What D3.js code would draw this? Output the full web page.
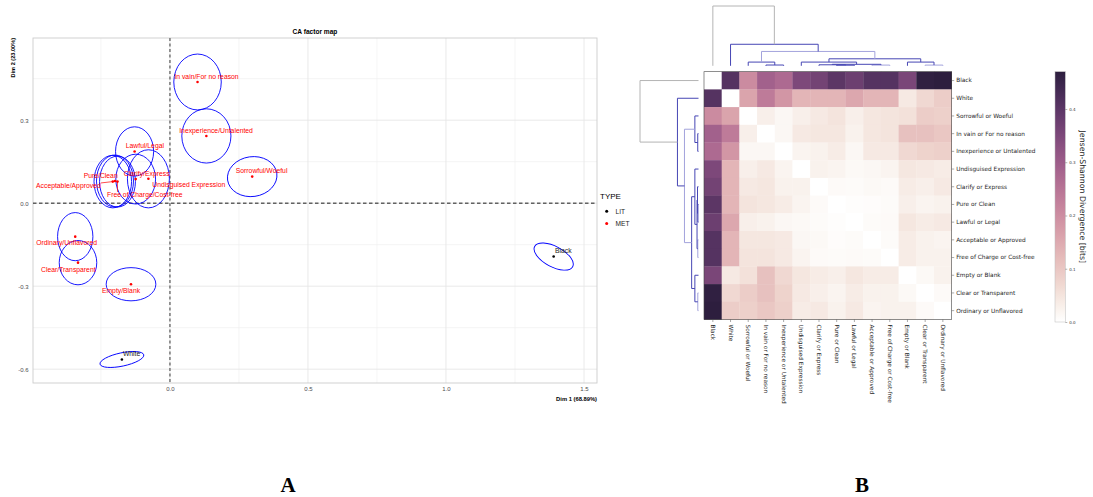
<!DOCTYPE html>
<html>
<head>
<meta charset="utf-8">
<script src="https://cdn.jsdelivr.net/npm/d3@7"></script>
<style>
body { margin: 0; background: #fff; }
svg { display: block; }
</style>
</head>
<body>
<svg id="fig" width="1093" height="497"></svg>
<script>
// ---------- panel A : CA factor map ----------
var caNames = ["In vain/For no reason", "Inexperience/Untalented", "Sorrowful/Woeful", "Lawful/Legal",
	"Clarify/Express", "Undisguised Expression", "Pure/Clean", "Acceptable/Approved",
	"Free of Charge/Cost-free", "Ordinary/Unflavored", "Clear/Transparent", "Empty/Blank", "White", "Black"];
var caType = ["MET", "MET", "MET", "MET", "MET", "MET", "MET", "MET", "MET", "MET", "MET", "MET", "LIT", "LIT"];
var caDim1 = [0.100, 0.132, 0.298, -0.128, -0.124, -0.078, -0.199, -0.207, -0.190, -0.343, -0.333, -0.141, -0.174, 1.390];
var caDim2 = [0.438, 0.243, 0.096, 0.187, 0.087, 0.088, 0.080, 0.078, 0.078, -0.121, -0.215, -0.293, -0.565, -0.193];
// confidence ellipses: semi-axes (dim units) and tilt (degrees)
var ellA = [0.086, 0.089, 0.090, 0.069, 0.072, 0.076, 0.067, 0.068, 0.065, 0.064, 0.068, 0.090, 0.081, 0.078];
var ellB = [0.101, 0.098, 0.072, 0.089, 0.090, 0.105, 0.094, 0.095, 0.092, 0.087, 0.080, 0.060, 0.024, 0.037];
var ellTilt = [0, 0, 8, 0, 0, 0, 0, 0, 0, 0, 0, 0, 12, -28];
var typeLevels = ["LIT", "MET"];

// label placement (pixels from the point, like ggrepel left them)
var labelNudge = [[9, -5.3], [9.7, -5.7], [9.4, -5.7], [10.3, -5.7], [11, -5.3], [40.4, 5.3], [-14.3, -5.3],
	[-44.4, 4], [27.3, 13], [-8.6, 6.3], [-9.7, 6.6], [-10, 6], [9.7, -5.4], [9.6, -6]];

// ---------- panel B : Jensen-Shannon clustermap ----------
var jsLabels = ["Black", "White", "Sorrowful or Woeful", "In vain or For no reason", "Inexperience or Untalented",
	"Undisguised Expression", "Clarify or Express", "Pure or Clean", "Lawful or Legal", "Acceptable or Approved",
	"Free of Charge or Cost-free", "Empty or Blank", "Clear or Transparent", "Ordinary or Unflavored"];
var jsd = [
	[0, 0.41, 0.205, 0.29, 0.27, 0.35, 0.365, 0.40, 0.375, 0.41, 0.41, 0.355, 0.465, 0.47],
	[0.41, 0, 0.16, 0.235, 0.185, 0.13, 0.13, 0.13, 0.155, 0.13, 0.13, 0.04, 0.07, 0.09],
	[0.205, 0.16, 0, 0.03, 0.015, 0.03, 0.04, 0.05, 0.03, 0.045, 0.05, 0.055, 0.09, 0.085],
	[0.29, 0.235, 0.03, 0, 0.015, 0.04, 0.045, 0.045, 0.025, 0.045, 0.05, 0.11, 0.11, 0.10],
	[0.27, 0.185, 0.015, 0.015, 0, 0.02, 0.025, 0.035, 0.015, 0.04, 0.04, 0.07, 0.08, 0.085],
	[0.35, 0.13, 0.03, 0.04, 0.02, 0, 0.025, 0.02, 0.012, 0.015, 0.02, 0.045, 0.04, 0.035],
	[0.365, 0.13, 0.04, 0.045, 0.025, 0.025, 0, 0.01, 0.008, 0.012, 0.01, 0.035, 0.03, 0.04],
	[0.40, 0.13, 0.05, 0.045, 0.035, 0.02, 0.01, 0, 0.004, 0.006, 0.008, 0.03, 0.02, 0.025],
	[0.375, 0.155, 0.03, 0.025, 0.015, 0.012, 0.008, 0.004, 0, 0.008, 0.01, 0.045, 0.035, 0.04],
	[0.41, 0.13, 0.045, 0.045, 0.04, 0.015, 0.012, 0.006, 0.008, 0, 0.008, 0.035, 0.025, 0.02],
	[0.41, 0.13, 0.05, 0.05, 0.04, 0.02, 0.01, 0.008, 0.01, 0.008, 0, 0.035, 0.025, 0.025],
	[0.355, 0.04, 0.055, 0.11, 0.07, 0.045, 0.035, 0.03, 0.045, 0.035, 0.035, 0, 0.012, 0.025],
	[0.465, 0.07, 0.09, 0.11, 0.08, 0.04, 0.03, 0.02, 0.035, 0.025, 0.025, 0.012, 0, 0.01],
	[0.47, 0.09, 0.085, 0.10, 0.085, 0.035, 0.04, 0.025, 0.04, 0.02, 0.025, 0.025, 0.01, 0]
];
// scipy style linkage: [left, right, height] ; leaves are 0..13 in the order above
var linkage = [
	[7, 8, 0.010], [9, 10, 0.012], [12, 13, 0.012], [3, 4, 0.013], [6, 14, 0.017],
	[18, 15, 0.025], [2, 17, 0.062], [5, 19, 0.062], [11, 16, 0.062], [21, 22, 0.117],
	[20, 23, 0.24], [1, 24, 0.36], [0, 25, 1.0]
];
var lightLinks = [15, 16, 24];
var cbarTicks = [0, 0.1, 0.2, 0.3, 0.4];

var svg = d3.select("#fig");
var SANS = "'Liberation Sans', Arial, sans-serif";
var DEJAVU = "'DejaVu Sans', sans-serif";

// ================= panel A =================
var A = { left: 33, right: 597, top: 38, bottom: 383 };
var x = d3.scaleLinear().domain([-0.496, 1.547]).range([A.left, A.right]);
var y = d3.scaleLinear().domain([-0.65, 0.597]).range([A.bottom, A.top]);
var typeColor = d3.scaleOrdinal().domain(typeLevels).range(["#000000", "#ff0000"]);

var ga = svg.append("g").attr("font-family", SANS);

// grid (minor then major)
var xMinor = [-0.25, 0.25, 0.75, 1.25], xMajor = [0, 0.5, 1, 1.5];
var yMinor = [-0.45, -0.15, 0.15, 0.45], yMajor = [-0.6, -0.3, 0, 0.3];
ga.selectAll(".vminor").data(xMinor).enter().append("line")
	.attr("x1", d => x(d)).attr("x2", d => x(d)).attr("y1", A.top).attr("y2", A.bottom)
	.attr("stroke", "#eeeeee").attr("stroke-width", 0.6);
ga.selectAll(".hminor").data(yMinor).enter().append("line")
	.attr("y1", d => y(d)).attr("y2", d => y(d)).attr("x1", A.left).attr("x2", A.right)
	.attr("stroke", "#eeeeee").attr("stroke-width", 0.6);
ga.selectAll(".vmajor").data(xMajor).enter().append("line")
	.attr("x1", d => x(d)).attr("x2", d => x(d)).attr("y1", A.top).attr("y2", A.bottom)
	.attr("stroke", "#e6e6e6").attr("stroke-width", 0.9);
ga.selectAll(".hmajor").data(yMajor).enter().append("line")
	.attr("y1", d => y(d)).attr("y2", d => y(d)).attr("x1", A.left).attr("x2", A.right)
	.attr("stroke", "#e6e6e6").attr("stroke-width", 0.9);

ga.append("rect").attr("x", A.left).attr("y", A.top)
	.attr("width", A.right - A.left).attr("height", A.bottom - A.top)
	.attr("fill", "none").attr("stroke", "#cccccc").attr("stroke-width", 0.9);

// axes labels via d3 axes
var xAxis = ga.append("g").attr("transform", "translate(0," + A.bottom + ")")
	.call(d3.axisBottom(x).tickValues(xMajor).tickFormat(d => d.toFixed(1)).tickSize(0).tickPadding(4));
var yAxis = ga.append("g").attr("transform", "translate(" + A.left + ",0)")
	.call(d3.axisLeft(y).tickValues(yMajor).tickFormat(d => d.toFixed(1)).tickSize(0).tickPadding(4.5));
[xAxis, yAxis].forEach(function(g){
	g.select(".domain").remove();
	g.attr("font-family", SANS);
	g.selectAll("text").attr("fill", "#4d4d4d").style("font-size", "6px");
});

// reference dashed lines
ga.append("line").attr("x1", A.left).attr("x2", A.right).attr("y1", y(0)).attr("y2", y(0))
	.attr("stroke", "#000").attr("stroke-width", 0.9).attr("stroke-dasharray", "3.5,2.5");
ga.append("line").attr("x1", x(0)).attr("x2", x(0)).attr("y1", A.top).attr("y2", A.bottom)
	.attr("stroke", "#7f7f7f").attr("stroke-width", 1.6).attr("stroke-dasharray", "3,2.5");

var pts = caNames.map(function(nm, i){
	return { name: nm, type: caType[i], d1: caDim1[i], d2: caDim2[i], a: ellA[i], b: ellB[i], tilt: ellTilt[i], nudge: labelNudge[i] };
});

// ellipses
ga.selectAll(".ell").data(pts).enter().append("ellipse")
	.attr("transform", d => "translate(" + x(d.d1) + "," + y(d.d2) + ") rotate(" + (-d.tilt) + ")")
	.attr("rx", d => x(d.a) - x(0)).attr("ry", d => y(0) - y(d.b))
	.attr("fill", "none").attr("stroke", "#0000ff").attr("stroke-width", 0.9);

// points
ga.selectAll(".pt").data(pts).enter().append("circle")
	.attr("cx", d => x(d.d1)).attr("cy", d => y(d.d2)).attr("r", 1.3)
	.attr("fill", d => typeColor(d.type));

// labels
var labs = ga.selectAll(".lab").data(pts).enter().append("text")
	.attr("x", d => x(d.d1) + d.nudge[0]).attr("y", d => y(d.d2) + d.nudge[1])
	.attr("text-anchor", "middle").attr("dy", "0.35em")
	.style("font-size", "6.8px")
	.attr("fill", d => d.type === "MET" ? "#ff0000" : "#222222")
	.text(d => d.name);

// segments from a point to its label box when the label was pushed away
labs.each(function(d){
	var bb = this.getBBox();
	var px = x(d.d1), py = y(d.d2);
	var qx = Math.max(bb.x, Math.min(px, bb.x + bb.width));
	var qy = Math.max(bb.y + 1, Math.min(py, bb.y + bb.height - 1));
	if (Math.hypot(qx - px, qy - py) > 5) {
		ga.append("line").attr("x1", px).attr("y1", py).attr("x2", qx).attr("y2", qy)
			.attr("stroke", typeColor(d.type)).attr("stroke-width", 0.7);
	}
});

// titles
ga.append("text").attr("x", (A.left + A.right) / 2).attr("y", 34).attr("text-anchor", "middle")
	.style("font-size", "6.6px").style("font-weight", "bold").text("CA factor map");
ga.append("text").attr("x", A.right).attr("y", 401).attr("text-anchor", "end")
	.style("font-size", "5.8px").style("font-weight", "bold").text("Dim 1 (68.89%)");
ga.append("text").attr("transform", "translate(15," + A.top + ") rotate(-90)").attr("text-anchor", "end")
	.style("font-size", "5.6px").style("font-weight", "bold").text("Dim 2 (23.00%)");

// legend
var lg = ga.append("g").attr("transform", "translate(600,0)");
lg.append("text").attr("x", 0).attr("y", 198.5).style("font-size", "8px").text("TYPE");
typeLevels.forEach(function(t, i){
	lg.append("circle").attr("cx", 6.7).attr("cy", 211.2 + i * 12.2).attr("r", 1.5).attr("fill", typeColor(t));
	lg.append("text").attr("x", 15.5).attr("y", 211.2 + i * 12.2).attr("dy", "0.35em")
		.style("font-size", "6.6px").attr("fill", "#222").text(t);
});

// ================= panel B =================
var gb = svg.append("g").attr("font-family", DEJAVU);
var n = jsLabels.length;
var H = { left: 704, right: 951.7, top: 71.7, bottom: 319.5 };
var xb = d3.scaleBand().domain(jsLabels).range([H.left, H.right]);
var yb = d3.scaleBand().domain(jsLabels).range([H.top, H.bottom]);
var vmax = d3.max(jsd, r => d3.max(r));

// seaborn cubehelix_palette(light=1, as_cmap=True)
function cubehelixSns(t) {
	var v = 1 + (0.15 - 1) * t;
	var a = 0.8 * v * (1 - v) / 2, phi = 2 * Math.PI * (0.4 * v);
	var c = Math.cos(phi), s = Math.sin(phi);
	var cl = u => Math.round(Math.max(0, Math.min(1, u)) * 255);
	return d3.rgb(cl(v + a * (-0.14861 * c + 1.78277 * s)),
		cl(v + a * (-0.29227 * c - 0.90649 * s)),
		cl(v + a * (1.97294 * c))).formatHex();
}
var color = d3.scaleSequential(cubehelixSns).domain([0, vmax]);

var cells = [];
jsd.forEach(function(row, i){ row.forEach(function(v, j){ cells.push({ r: jsLabels[i], c: jsLabels[j], v: v }); }); });
gb.selectAll(".cell").data(cells).enter().append("rect")
	.attr("x", d => xb(d.c)).attr("y", d => yb(d.r))
	.attr("width", xb.bandwidth() + 0.3).attr("height", yb.bandwidth() + 0.3)
	.attr("fill", d => color(d.v));
gb.append("rect").attr("x", H.left).attr("y", H.top)
	.attr("width", H.right - H.left).attr("height", H.bottom - H.top)
	.attr("fill", "none").attr("stroke", "#444").attr("stroke-width", 0.6);

// row labels (right) and column labels (bottom)
var rowAx = gb.append("g").attr("transform", "translate(" + H.right + ",0)")
	.call(d3.axisRight(yb).tickSize(2.5).tickPadding(2));
var colAx = gb.append("g").attr("transform", "translate(0," + H.bottom + ")")
	.call(d3.axisBottom(xb).tickSize(2.5).tickPadding(2));
colAx.selectAll("text")
	.attr("transform", "rotate(90)").attr("x", 5).attr("y", 0).attr("dy", "0.35em").style("text-anchor", "start");
[rowAx, colAx].forEach(function(g){
	g.select(".domain").remove();
	g.attr("font-family", DEJAVU);
	g.selectAll("text").style("font-size", "5.8px").attr("fill", "#262626");
	g.selectAll("line").attr("stroke", "#555").attr("stroke-width", 0.5);
});

// dendrograms
var pos = d3.range(n), hgt = d3.range(n).map(() => 0);
linkage.forEach(function(l){ pos.push((pos[l[0]] + pos[l[1]]) / 2); hgt.push(l[2]); });
var leafC = d3.scaleLinear().domain([0, n - 1]).range([xb(jsLabels[0]) + xb.bandwidth() / 2, xb(jsLabels[n - 1]) + xb.bandwidth() / 2]);
var leafR = d3.scaleLinear().domain([0, n - 1]).range([yb(jsLabels[0]) + yb.bandwidth() / 2, yb(jsLabels[n - 1]) + yb.bandwidth() / 2]);
var maxH = d3.max(linkage, l => l[2]);
var hTop = d3.scaleLinear().domain([0, maxH]).range([65.8, 6]);
var hLeft = d3.scaleLinear().domain([0, maxH]).range([698.5, 640]);

function linkColor(id) {
	if (id === n + linkage.length - 1) return "#b4b4b4";
	return lightLinks.indexOf(id) >= 0 ? "#a3a3dc" : "#4646b4";
}
linkage.forEach(function(l, k){
	var id = n + k, c = linkColor(id);
	var a = l[0], b = l[1];
	gb.append("path")
		.attr("d", "M" + leafC(pos[a]) + "," + hTop(hgt[a]) + "V" + hTop(l[2]) + "H" + leafC(pos[b]) + "V" + hTop(hgt[b]))
		.attr("fill", "none").attr("stroke", c).attr("stroke-width", 1);
	gb.append("path")
		.attr("d", "M" + hLeft(hgt[a]) + "," + leafR(pos[a]) + "H" + hLeft(l[2]) + "V" + leafR(pos[b]) + "H" + hLeft(hgt[b]))
		.attr("fill", "none").attr("stroke", c).attr("stroke-width", 1);
});

// colour bar
var CB = { x: 1055, w: 10.3, top: 71.7, bottom: 322 };
var cScale = d3.scaleLinear().domain([0, vmax]).range([CB.bottom, CB.top]);
var grad = svg.append("defs").append("linearGradient").attr("id", "cbgrad")
	.attr("x1", 0).attr("y1", 1).attr("x2", 0).attr("y2", 0);
d3.range(0, 1.0001, 0.05).forEach(function(t){
	grad.append("stop").attr("offset", t).attr("stop-color", color(t * vmax));
});
gb.append("rect").attr("x", CB.x).attr("y", CB.top).attr("width", CB.w).attr("height", CB.bottom - CB.top)
	.attr("fill", "url(#cbgrad)").attr("stroke", "#bbb").attr("stroke-width", 0.5);
var cbAx = gb.append("g").attr("transform", "translate(" + (CB.x + CB.w) + ",0)")
	.call(d3.axisRight(cScale).tickValues(cbarTicks).tickFormat(d3.format(".1f")).tickSize(2).tickPadding(2));
cbAx.select(".domain").remove();
cbAx.attr("font-family", DEJAVU);
cbAx.selectAll("line").attr("stroke", "#666").attr("stroke-width", 0.5);
cbAx.selectAll("text").style("font-size", "4px").attr("fill", "#333");
gb.append("text").attr("transform", "translate(1082.5," + ((CB.top + CB.bottom) / 2) + ") rotate(90)")
	.attr("text-anchor", "middle").attr("dy", "0.35em").style("font-size", "7.8px").attr("fill", "#222")
	.text("Jensen-Shannon Divergence [bits]");

// panel letters
svg.append("g").attr("font-family", "'Liberation Serif', 'Times New Roman', serif")
	.selectAll("text").data([["A", 288], ["B", 862]]).enter().append("text")
	.attr("x", d => d[1]).attr("y", 492).attr("text-anchor", "middle")
	.style("font-size", "21px").style("font-weight", "bold").text(d => d[0]);
</script>
</body>
</html>
